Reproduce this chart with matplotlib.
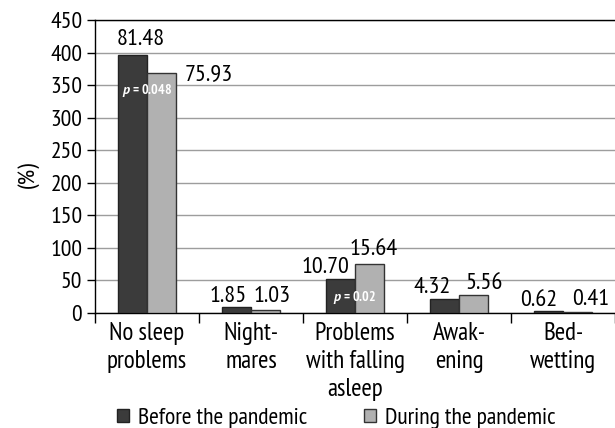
import matplotlib
matplotlib.use("Agg")
import matplotlib.pyplot as plt
import numpy as np
from matplotlib.patches import Patch

categories = ["No sleep\nproblems", "Night-\nmares", "Problems\nwith falling\nasleep", "Awak-\nening", "Bed-\nwetting"]
before_counts = [396, 9, 52, 21, 3]
during_counts = [369, 5, 76, 27, 2]
before_pct = ["81.48", "1.85", "10.70", "4.32", "0.62"]
during_pct = ["75.93", "1.03", "15.64", "5.56", "0.41"]
p_values = {0: ("0.048", 341), 2: ("0.02", 24)}
yticks = list(range(0, 451, 50))
legend_labels = ["Before the pandemic", "During the pandemic"]

plt.rcParams['font.family'] = ['PT Sans Narrow', 'DejaVu Sans']
plt.rcParams['mathtext.fontset'] = 'custom'
plt.rcParams['mathtext.it'] = 'PT Sans:italic:bold'
plt.rcParams['mathtext.rm'] = 'PT Sans Narrow:bold'

FS_TICK = 17
FS_VAL = 17.5
FS_CAT = 18
FS_LEG = 17

fig = plt.figure(figsize=(6.15, 4.28), dpi=100)
ax = fig.add_axes([95/615, 115/428, 520/615, 293/428])

x = np.arange(len(categories))
w = 0.28
dark = "#3b3b3b"
light = "#b1b1b1"
ax.bar(x - w/2, before_counts, w, color=dark, edgecolor="#222222", linewidth=1, zorder=3)
ax.bar(x + w/2, during_counts, w, color=light, edgecolor="#333333", linewidth=1, zorder=3)

ax.set_xlim(-0.5, 4.5)
ax.set_ylim(0, 450)
ax.set_yticks(yticks)
ax.tick_params(axis='y', labelsize=FS_TICK, length=5.8, width=1, pad=3.4)
ax.yaxis.grid(True, color="#9d9d9d", linewidth=1, zorder=0)
ax.set_axisbelow(True)

ax.set_xticks(x)
ax.set_xticklabels(categories, fontsize=FS_CAT, linespacing=1.28)
ax.tick_params(axis='x', length=0, pad=6.5)
ax.set_xticks(np.arange(-0.5, 4.6, 1), minor=True)
ax.tick_params(axis='x', which='minor', length=7.2, width=1)

ax.spines['right'].set_visible(False)
for s in ['left', 'bottom', 'top']:
    ax.spines[s].set_color('black')
    ax.spines[s].set_linewidth(1)

ax.set_ylabel("(%)", fontsize=FS_VAL)
ax.yaxis.set_label_coords(-0.108, 0.474)

# value labels with per-label offsets (points), baseline-aligned
b_off = [(6, 7.2), (-5.8, 3.4), (-10.8, 4.3), (-9, 4.3), (-6.8, 3.8)]
d_off = [(34, -5), (5, 5.3), (2.9, 5.8), (7.6, 4.8), (9.7, 4.5)]
for i in range(len(categories)):
    ax.annotate(before_pct[i], (x[i] - w/2, before_counts[i]), xytext=b_off[i],
                textcoords='offset points', ha='center', va='baseline', fontsize=FS_VAL)
    ax.annotate(during_pct[i], (x[i] + w/2, during_counts[i]), xytext=d_off[i],
                textcoords='offset points', ha='center', va='baseline', fontsize=FS_VAL)

for i, (val, yv) in p_values.items():
    ax.text(x[i], yv, r"$\mathit{p}$" + " = " + val, ha='center', va='center', color='white',
            fontsize=10, fontweight='bold', zorder=5)

handles = [Patch(facecolor=dark, edgecolor="#222222"), Patch(facecolor=light, edgecolor="#333333")]
fig.legend(handles, legend_labels, loc='center',
           bbox_to_anchor=(0.547, 0.023), ncol=2, frameon=False, fontsize=FS_LEG,
           handlelength=0.5, handleheight=0.5, columnspacing=2.4, handletextpad=0.38,
           borderpad=0.2)

fig.savefig("out.png", dpi=100)
